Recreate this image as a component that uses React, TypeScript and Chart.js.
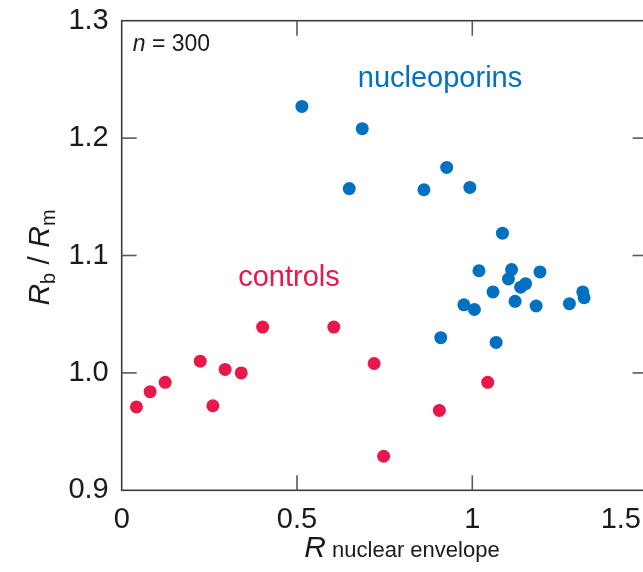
import React, { useEffect, useRef } from 'react';
import { Chart, registerables } from 'chart.js';

Chart.register(...registerables);

// Controls (red)
const controlsX = [0.042, 0.081, 0.124, 0.224, 0.260, 0.295, 0.341, 0.402, 0.605, 0.720, 0.747, 0.906, 1.044];
const controlsY = [0.971, 0.984, 0.992, 1.010, 0.972, 1.003, 1.000, 1.039, 1.039, 1.008, 0.929, 0.968, 0.992];

// Nucleoporins (blue)
const nupX = [0.514, 0.686, 0.649, 0.862, 0.927, 0.993, 1.086, 1.019, 1.112, 1.103, 1.193, 1.152, 1.138, 1.059, 0.976, 1.006, 1.122, 1.182, 1.277, 1.315, 1.319, 0.910, 1.068];
const nupY = [1.227, 1.208, 1.157, 1.156, 1.175, 1.158, 1.119, 1.087, 1.088, 1.080, 1.086, 1.076, 1.073, 1.069, 1.058, 1.054, 1.061, 1.057, 1.059, 1.069, 1.064, 1.030, 1.026];

const xTickValues = [0, 0.5, 1, 1.5];
const xTickLabels = ['0', '0.5', '1', '1.5'];
const yTickValues = [0.9, 1.0, 1.1, 1.2, 1.3];
const innerXTicks = [0.5, 1];
const innerYTicks = [1.0, 1.1, 1.2];

const BLUE = '#0070C0';
const RED = '#E8184A';
const FONT = '"Liberation Sans", Arial, sans-serif';

const CANVAS_W = 680;
const CANVAS_H = 572;
const AREA_LEFT = 121.7;
const AREA_TOP = 20.7;
const AREA_BOTTOM = 490.3;
const AREA_RIGHT = 647.6;

const decor = {
  id: 'decor',
  beforeDatasetsDraw(chart: any) {
    const { ctx, chartArea: a, scales } = chart;
    const x = scales.x;
    const y = scales.y;
    ctx.save();
    ctx.strokeStyle = '#3c3c3c';
    ctx.lineWidth = 1.6;
    ctx.strokeRect(a.left, a.top, a.right - a.left, a.bottom - a.top);
    ctx.strokeStyle = '#5a5a5a';
    ctx.lineWidth = 1.6;
    const line = (x1: number, y1: number, x2: number, y2: number) => {
      ctx.beginPath();
      ctx.moveTo(x1, y1);
      ctx.lineTo(x2, y2);
      ctx.stroke();
    };
    for (const v of innerXTicks) {
      const px = x.getPixelForValue(v);
      line(px, a.bottom, px, a.bottom - 15);
      line(px, a.top, px, a.top + 15);
    }
    for (const v of innerYTicks) {
      const py = y.getPixelForValue(v);
      line(a.left, py, a.left + 15, py);
      line(a.right, py, a.right - 15, py);
    }
    ctx.restore();
  },
  afterDraw(chart: any) {
    const { ctx, chartArea: a, scales } = chart;
    const x = scales.x;
    ctx.save();
    // x tick labels
    ctx.fillStyle = '#1a1a1a';
    ctx.font = `29px ${FONT}`;
    ctx.textBaseline = 'alphabetic';
    xTickValues.forEach((v, i) => {
      const txt = xTickLabels[i];
      const w = ctx.measureText(txt).width;
      let cx = x.getPixelForValue(v);
      if (cx + w / 2 > 641) cx = 641 - w / 2;
      ctx.textAlign = 'center';
      ctx.fillText(txt, cx, a.bottom + 38);
    });

    // x axis title
    const big = `italic 30px ${FONT}`;
    const small = `22px ${FONT}`;
    ctx.font = big;
    const wR = ctx.measureText('R').width;
    ctx.font = small;
    const wRest = ctx.measureText(' nuclear envelope').width;
    const startX = 402 - (wR + wRest) / 2;
    ctx.textAlign = 'left';
    ctx.font = big;
    ctx.fillText('R', startX, 557);
    ctx.font = small;
    ctx.fillText(' nuclear envelope', startX + wR, 557);

    // y axis title (rotated)
    ctx.save();
    ctx.translate(49, (a.top + a.bottom) / 2 + 2);
    ctx.rotate(-Math.PI / 2);
    const parts: [string, string, number][] = [
      ['R', big, 0],
      ['b', `20px ${FONT}`, 6],
      [' / ', `30px ${FONT}`, 0],
      ['R', big, 0],
      ['m', `20px ${FONT}`, 6],
    ];
    let total = 0;
    for (const [t, f] of parts) {
      ctx.font = f;
      total += ctx.measureText(t).width;
    }
    let cx = -total / 2;
    ctx.textAlign = 'left';
    for (const [t, f, dy] of parts) {
      ctx.font = f;
      ctx.fillText(t, cx, dy);
      cx += ctx.measureText(t).width;
    }
    ctx.restore();

    // n = 300
    ctx.fillStyle = '#1a1a1a';
    ctx.font = `italic 23px ${FONT}`;
    ctx.textAlign = 'left';
    const nX = a.left + 11;
    ctx.fillText('n', nX, a.top + 30);
    const wn = ctx.measureText('n').width;
    ctx.font = `23px ${FONT}`;
    ctx.fillText(' = 300', nX + wn, a.top + 30);

    // group labels
    ctx.font = `29px ${FONT}`;
    ctx.textAlign = 'center';
    ctx.fillStyle = BLUE;
    ctx.fillText('nucleoporins', 440, 87);
    ctx.fillStyle = RED;
    ctx.fillText('controls', 289, 286);
    ctx.restore();
  },
};

export default function App() {
  const ref = useRef<HTMLCanvasElement | null>(null);

  useEffect(() => {
    document.body.style.margin = '0';
    const canvas = ref.current;
    if (!canvas) return;
    const chart = new Chart(canvas, {
      type: 'scatter',
      data: {
        datasets: [
          {
            label: 'controls',
            data: controlsX.map((v, i) => ({ x: v, y: controlsY[i] })),
            backgroundColor: RED,
            borderWidth: 0,
            pointRadius: 6.5,
          },
          {
            label: 'nucleoporins',
            data: nupX.map((v, i) => ({ x: v, y: nupY[i] })),
            backgroundColor: BLUE,
            borderWidth: 0,
            pointRadius: 6.5,
          },
        ],
      },
      options: {
        responsive: false,
        animation: false,
        devicePixelRatio: 1,
        layout: {
          padding: { top: AREA_TOP, right: CANVAS_W - AREA_RIGHT, left: 0, bottom: 0 },
        },
        plugins: { legend: { display: false }, tooltip: { enabled: false } },
        scales: {
          x: {
            type: 'linear',
            min: 0,
            max: 1.5,
            grid: { display: false, drawTicks: false },
            border: { display: false },
            ticks: { display: false },
            afterFit: (s: any) => {
              s.height = CANVAS_H - AREA_BOTTOM;
              s.paddingLeft = 0;
              s.paddingRight = 0;
            },
          },
          y: {
            type: 'linear',
            min: 0.9,
            max: 1.3,
            grid: { display: false, drawTicks: false },
            border: { display: false },
            afterBuildTicks: (s: any) => {
              s.ticks = yTickValues.map((v) => ({ value: v }));
            },
            ticks: {
              padding: 13,
              color: '#1a1a1a',
              font: { family: FONT, size: 29 },
              callback: (v: any) => Number(v).toFixed(1),
            },
            afterFit: (s: any) => {
              s.width = AREA_LEFT;
              s.paddingTop = 0;
              s.paddingBottom = 0;
            },
          },
        },
      },
      plugins: [decor],
    });
    return () => chart.destroy();
  }, []);

  return (
    <div style={{ width: 643, height: 572, overflow: 'hidden', position: 'relative' }}>
      <canvas ref={ref} width={CANVAS_W} height={CANVAS_H} style={{ display: 'block' }} />
    </div>
  );
}
